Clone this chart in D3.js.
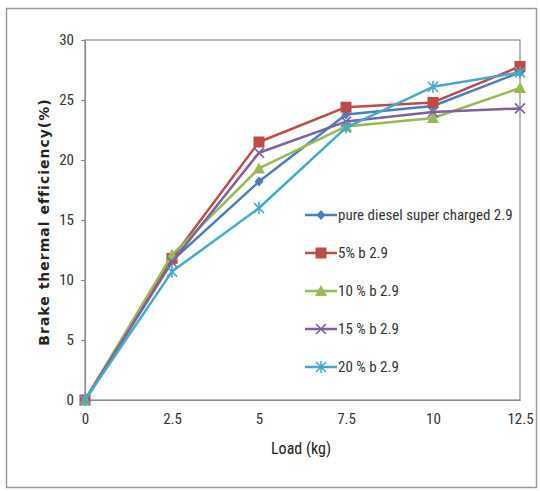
<!DOCTYPE html>
<html><head><meta charset="utf-8">
<script src="https://cdn.jsdelivr.net/npm/d3@7"></script>
<style>
html,body{margin:0;padding:0;background:#fff;}
svg{display:block;}
</style></head>
<body>
<svg id="chart" width="540" height="491"></svg>
<script>
const loads = [0, 2.5, 5, 7.5, 10, 12.5];
const seriesNames = ["pure diesel super charged 2.9", "5% b 2.9", "10 % b 2.9", "15 % b 2.9", "20 % b 2.9"];
const pureDiesel = [0, 11.6, 18.2, 23.8, 24.5, 27.3];
const b5 = [0, 11.8, 21.5, 24.4, 24.8, 27.8];
const b10 = [0, 12.1, 19.3, 22.8, 23.5, 26.0];
const b15 = [0, 11.5, 20.6, 23.2, 24.0, 24.3];
const b20 = [0, 10.7, 16.0, 22.7, 26.1, 27.3];
const yTicks = [0, 5, 10, 15, 20, 25, 30];
const xTicks = [0, 2.5, 5, 7.5, 10, 12.5];
const colors = ["#4a7ebb", "#be4b48", "#98b954", "#7d60a0", "#46aac5"];
const markerTypes = ["diamond", "square", "triangle", "x", "asterisk"];
const allValues = [pureDiesel, b5, b10, b15, b20];

const svg = d3.select("#chart");
const font = "'Liberation Sans Narrow', 'Roboto Condensed', 'Arial Narrow', sans-serif";

// outer frame
svg.append("rect").attr("x", 6.5).attr("y", 8.5).attr("width", 530).attr("height", 479)
  .attr("fill", "#fff").attr("stroke", "#9a9a9a").attr("stroke-width", 1.5);

const x = d3.scaleLinear().domain([0, 12.5]).range([85, 520]);
const y = d3.scaleLinear().domain([0, 30]).range([400, 40]);

// plot area border
svg.append("rect").attr("x", x(0)).attr("y", y(30)).attr("width", x(12.5) - x(0)).attr("height", y(0) - y(30))
  .attr("fill", "none").attr("stroke", "#8c8c8c").attr("stroke-width", 1.2);

const yAxis = svg.append("g").attr("transform", `translate(${x(0)},0)`)
  .call(d3.axisLeft(y).tickValues(yTicks).tickSize(4).tickPadding(7).tickFormat(d3.format("d")));
const xAxis = svg.append("g").attr("transform", `translate(0,${y(0)})`)
  .call(d3.axisBottom(x).tickValues(xTicks).tickSize(0).tickPadding(24).tickFormat(d => String(d)));
[yAxis, xAxis].forEach(g => {
  g.select(".domain").attr("stroke", "#8c8c8c").attr("stroke-width", 1.2);
  g.selectAll(".tick line").attr("stroke", "#8c8c8c");
  g.selectAll("text").attr("fill", "#333").style("font-family", font).style("font-size", "15px");
});
xAxis.selectAll("text").attr("dy", "0");

// axis titles
svg.append("text").attr("x", 301).attr("y", 454).attr("text-anchor", "middle")
  .style("font-family", font).style("font-size", "16px").attr("fill", "#222").text("Load (kg)");
svg.append("text").attr("transform", "translate(49,222) rotate(-90)").attr("text-anchor", "middle")
  .style("font-family", "'DejaVu Sans', Verdana, sans-serif").style("font-size", "14px").style("font-weight", "bold")
  .style("letter-spacing", "1px")
  .attr("fill", "#222").text("Brake thermal efficiency(%)");

function drawMarker(g, type, color, cx, cy) {
  if (type === "diamond") {
    g.append("path").attr("d", `M${cx},${cy-5}L${cx+4.5},${cy}L${cx},${cy+5}L${cx-4.5},${cy}Z`).attr("fill", color);
  } else if (type === "square") {
    g.append("rect").attr("x", cx - 5.5).attr("y", cy - 5.5).attr("width", 11).attr("height", 11).attr("fill", color);
  } else if (type === "triangle") {
    g.append("path").attr("d", `M${cx},${cy-6}L${cx+6},${cy+5}L${cx-6},${cy+5}Z`).attr("fill", color);
  } else if (type === "x") {
    g.append("path").attr("d", `M${cx-5},${cy-5}L${cx+5},${cy+5}M${cx-5},${cy+5}L${cx+5},${cy-5}`)
      .attr("stroke", color).attr("stroke-width", 1.6);
  } else {
    g.append("path").attr("d", `M${cx-5},${cy-5}L${cx+5},${cy+5}M${cx-5},${cy+5}L${cx+5},${cy-5}M${cx},${cy-6}L${cx},${cy+6}`)
      .attr("stroke", color).attr("stroke-width", 1.6);
  }
}

const line = d3.line().x(d => x(d[0])).y(d => y(d[1]));
allValues.forEach((vals, i) => {
  const g = svg.append("g");
  const pts = loads.map((l, j) => [l, vals[j]]);
  g.append("path").datum(pts).attr("d", line).attr("fill", "none")
    .attr("stroke", colors[i]).attr("stroke-width", 2.5).attr("stroke-linejoin", "round");
  pts.forEach(p => drawMarker(g, markerTypes[i], colors[i], x(p[0]), y(p[1])));
});

// legend
const legY = [215, 253, 291, 329, 367];
seriesNames.forEach((name, i) => {
  const g = svg.append("g");
  g.append("line").attr("x1", 305).attr("x2", 337).attr("y1", legY[i]).attr("y2", legY[i])
    .attr("stroke", colors[i]).attr("stroke-width", 2.5);
  drawMarker(g, markerTypes[i], colors[i], 321, legY[i]);
  g.append("text").attr("x", 338).attr("y", legY[i] + 5).style("font-family", font).style("font-size", "15px")
    .attr("fill", "#333").text(name);
});
</script>
</body></html>
